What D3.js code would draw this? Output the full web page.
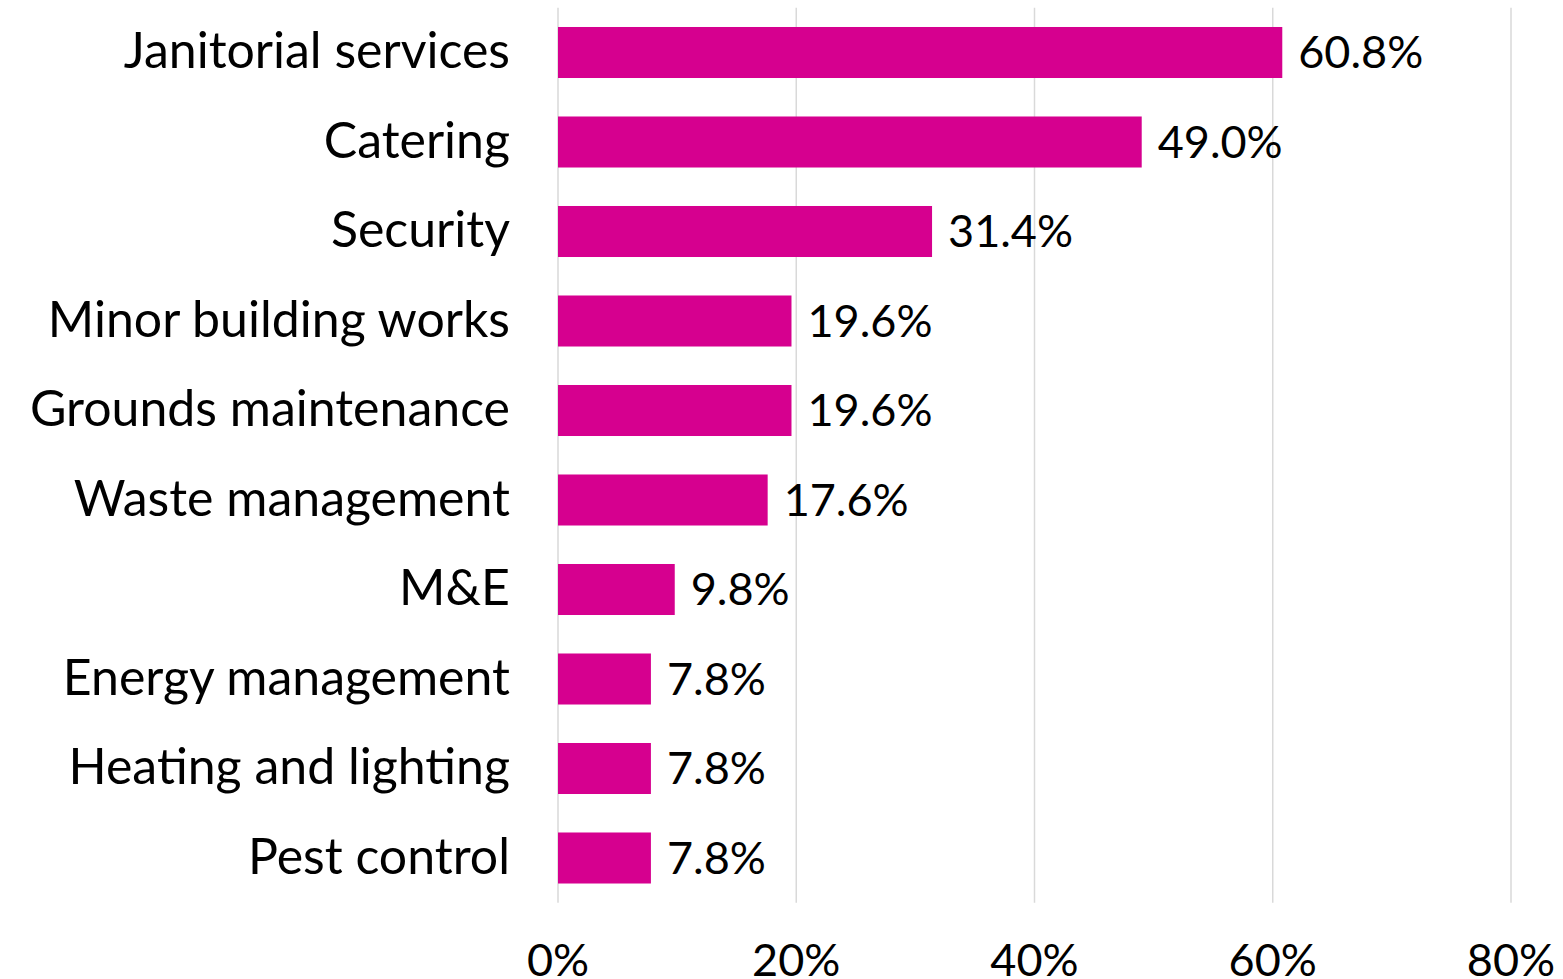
<!DOCTYPE html>
<html>
<head>
<meta charset="utf-8">
<script src="https://cdn.jsdelivr.net/npm/d3@7"></script>
<style>
  html, body { margin: 0; padding: 0; background: #fff; }
  svg { display: block; }
  text { font-family: Lato, "Open Sans", sans-serif; fill: #000; }
</style>
</head>
<body>
<svg id="chart" width="1563" height="979"></svg>
<script>
// Outsourced services share (%)
const categories = [
  "Janitorial services", "Catering", "Security", "Minor building works",
  "Grounds maintenance", "Waste management", "M&E", "Energy management",
  "Heating and lighting", "Pest control"
];
const values = [60.8, 49.0, 31.4, 19.6, 19.6, 17.6, 9.8, 7.8, 7.8, 7.8];
const tickValues = [0, 20, 40, 60, 80];

const svg = d3.select("#chart");
const barColor = "#d6008f";

const x = d3.scaleLinear().domain([0, 80]).range([558, 1511]);
const y = d3.scaleBand()
  .domain(categories)
  .range([7.75, 902.75])
  .paddingInner(0.43)
  .paddingOuter(0.215);

// vertical gridlines
svg.append("g")
  .selectAll("line")
  .data(tickValues)
  .join("line")
  .attr("x1", d => x(d)).attr("x2", d => x(d))
  .attr("y1", y.range()[0]).attr("y2", y.range()[1])
  .attr("stroke", "#d9d9d9")
  .attr("stroke-width", 1.5);

// bars
svg.append("g")
  .selectAll("rect")
  .data(values)
  .join("rect")
  .attr("x", x(0))
  .attr("y", (d, i) => y(categories[i]))
  .attr("width", d => x(d) - x(0))
  .attr("height", y.bandwidth())
  .attr("fill", barColor);

// value labels
svg.append("g")
  .selectAll("text")
  .data(values)
  .join("text")
  .attr("x", d => x(d) + 16)
  .attr("y", (d, i) => y(categories[i]) + y.bandwidth() / 2 + 15.5)
  .attr("font-size", 45)
  .text(d => d.toFixed(1) + "%");

// category labels
svg.append("g")
  .selectAll("text")
  .data(categories)
  .join("text")
  .attr("x", 510)
  .attr("y", d => y(d) + y.bandwidth() / 2 + 15.5)
  .attr("text-anchor", "end")
  .attr("font-size", 50)
  .text(d => d);

// x-axis tick labels
svg.append("g")
  .selectAll("text")
  .data(tickValues)
  .join("text")
  .attr("x", d => x(d))
  .attr("y", 976)
  .attr("text-anchor", "middle")
  .attr("font-size", 45)
  .text(d => d + "%");
</script>
</body>
</html>
